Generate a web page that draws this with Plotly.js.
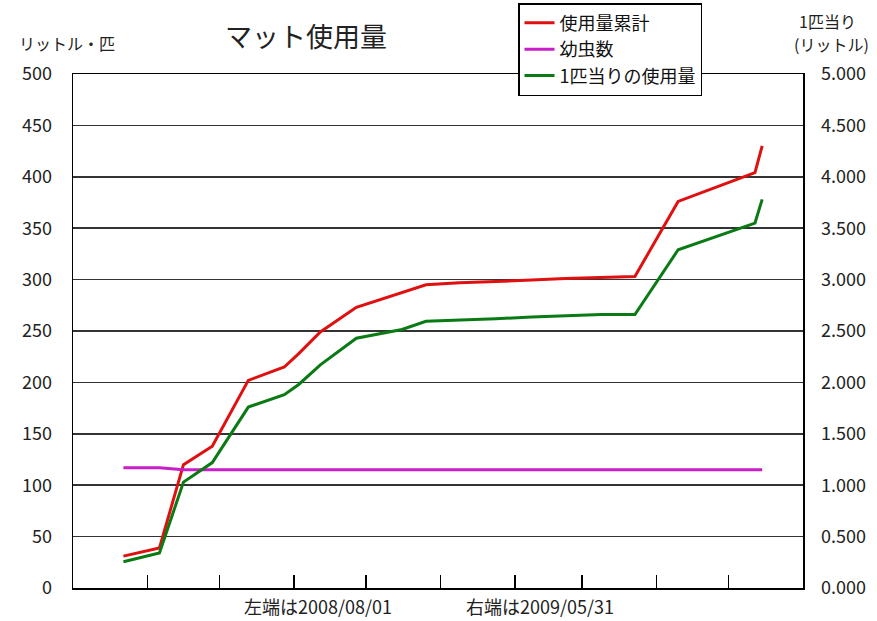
<!DOCTYPE html>
<html>
<head>
<meta charset="utf-8">
<script src="https://cdn.plot.ly/plotly-3.0.1.min.js"></script>
<style>html,body{margin:0;padding:0;background:#fff;}#chart{width:877px;height:621px;}</style>
</head>
<body>
<div id="chart"></div>
<script>
// Dates of each record
const dates = ["2008-08-22","2008-09-06","2008-09-16","2008-09-28","2008-10-13","2008-10-28","2008-11-03","2008-11-12","2008-11-27","2008-12-16","2008-12-26","2009-01-09","2009-01-24","2009-02-08","2009-02-22","2009-03-09","2009-03-23","2009-04-10","2009-05-12","2009-05-15"];
// 使用量累計 (リットル)
const cumulativeUse = [31, 39, 120, 138, 202, 215, 228, 249, 273, 287, 295, 297, 298, 299.5, 301, 302, 303, 376, 404, 430];
// 幼虫数 (匹)
const larvaeCount = [117, 117, 115, 115, 115, 115, 115, 115, 115, 115, 115, 115, 115, 115, 115, 115, 115, 115, 115, 115];
// 1匹当りの使用量 (リットル)
const perLarva = [0.255, 0.34, 1.03, 1.22, 1.76, 1.88, 1.98, 2.17, 2.43, 2.515, 2.595, 2.605, 2.62, 2.635, 2.645, 2.66, 2.66, 3.29, 3.55, 3.78];
const seriesNames = ["使用量累計", "幼虫数", "1匹当りの使用量"];

const JP = '"Noto Sans CJK JP", "Noto Sans", sans-serif';

const traces = [
  {x: dates, y: cumulativeUse, name: seriesNames[0], type: 'scatter', mode: 'lines',
   line: {color: '#e01010', width: 3}, yaxis: 'y'},
  {x: dates, y: larvaeCount, name: seriesNames[1], type: 'scatter', mode: 'lines',
   line: {color: '#c81ec8', width: 3}, yaxis: 'y'},
  {x: dates, y: perLarva, name: seriesNames[2], type: 'scatter', mode: 'lines',
   line: {color: '#0a7a14', width: 3}, yaxis: 'y2'}
];

const layout = {
  width: 877, height: 621,
  margin: {l: 73, r: 74, t: 74, b: 33, autoexpand: false},
  paper_bgcolor: '#fff', plot_bgcolor: '#fff',
  font: {family: JP, size: 16, color: '#222'},
  showlegend: true,
  legend: {x: (518 - 73) / 730, y: (588.5 - 3) / 514.5, xanchor: 'left', yanchor: 'top',
    bgcolor: '#fff', bordercolor: '#000', borderwidth: 1.5,
    font: {family: JP, size: 18, color: '#111'}, tracegroupgap: 0},
  xaxis: {type: 'date', range: ['2008-08-01', '2009-06-01'],
    tickmode: 'linear', tick0: '2008-08-01', dtick: 'M1',
    ticks: 'inside', ticklen: 13, tickwidth: 1.5, tickcolor: '#000',
    showticklabels: false, showgrid: false, zeroline: false,
    showline: true, linecolor: '#000', linewidth: 1.5, mirror: true, fixedrange: true},
  yaxis: {range: [0, 500], tickmode: 'linear', tick0: 0, dtick: 50,
    showgrid: true, gridcolor: '#333', gridwidth: 1.5, zeroline: false,
    showline: true, linecolor: '#000', linewidth: 1.5, ticks: '',
    ticklabelstandoff: 16,
    tickfont: {family: JP, size: 18, color: '#222'}},
  yaxis2: {range: [0, 5], tickmode: 'linear', tick0: 0, dtick: 0.5, tickformat: '.3f',
    overlaying: 'y', side: 'right', showgrid: false, zeroline: false,
    showline: true, linecolor: '#000', linewidth: 1.5, ticks: '',
    ticklabelstandoff: 13,
    tickfont: {family: JP, size: 18, color: '#222'}},
  annotations: [
    {text: 'マット使用量', xref: 'paper', yref: 'paper', x: (306 - 73) / 730, y: (588.5 - 35) / 514.5,
     xanchor: 'center', yanchor: 'middle', showarrow: false, font: {family: JP, size: 27, color: '#222'}},
    {text: 'リットル・匹', xref: 'paper', yref: 'paper', x: (67 - 73) / 730, y: (588.5 - 43) / 514.5,
     xanchor: 'center', yanchor: 'middle', showarrow: false, font: {family: JP, size: 16, color: '#222'}},
    {text: '1匹当り', xref: 'paper', yref: 'paper', x: (828 - 73) / 730, y: (588.5 - 21) / 514.5,
     xanchor: 'center', yanchor: 'middle', showarrow: false, font: {family: JP, size: 16, color: '#222'}},
    {text: '(リットル)', xref: 'paper', yref: 'paper', x: (832 - 73) / 730, y: (588.5 - 44) / 514.5,
     xanchor: 'center', yanchor: 'middle', showarrow: false, font: {family: JP, size: 16, color: '#222'}},
    {text: '左端は2008/08/01', xref: 'paper', yref: 'paper', x: (318 - 73) / 730, y: (588.5 - 607) / 514.5,
     xanchor: 'center', yanchor: 'middle', showarrow: false, font: {family: JP, size: 18, color: '#222'}},
    {text: '右端は2009/05/31', xref: 'paper', yref: 'paper', x: (540 - 73) / 730, y: (588.5 - 607) / 514.5,
     xanchor: 'center', yanchor: 'middle', showarrow: false, font: {family: JP, size: 18, color: '#222'}}
  ]
};

Plotly.newPlot('chart', traces, layout, {displayModeBar: false, staticPlot: true});
</script>
</body>
</html>
